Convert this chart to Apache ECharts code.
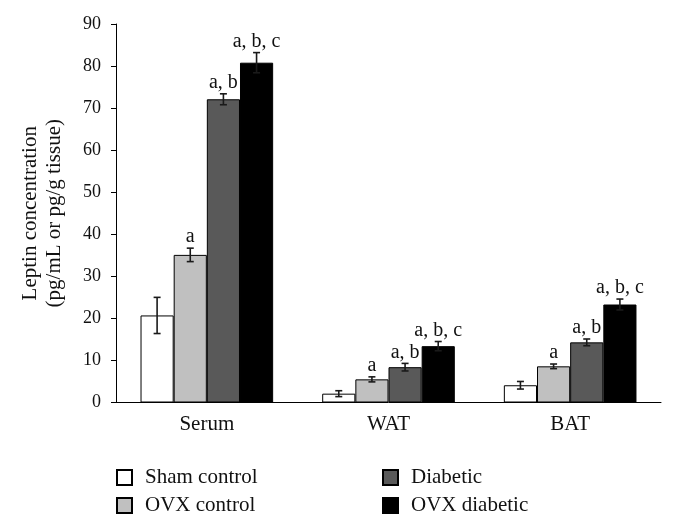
<!DOCTYPE html>
<html>
<head>
<meta charset="utf-8">
<script src="https://cdn.jsdelivr.net/npm/echarts@6/dist/echarts.min.js"></script>
<style>
  html, body { margin: 0; padding: 0; background: #fff; }
  #chart { width: 676px; height: 527px; }
</style>
</head>
<body>
<div id="chart"></div>
<script>
const categories = ["Serum", "WAT", "BAT"];
const groups = ["Sham control", "OVX control", "Diabetic", "OVX diabetic"];
const colors = ["#ffffff", "#c0c0c0", "#595959", "#000000"];

// mean values per group, in category order
const shamControl = [20.7, 2.1, 4.1];
const ovxControl = [35.1, 5.5, 8.6];
const diabetic = [72.1, 8.4, 14.3];
const ovxDiabetic = [80.8, 13.4, 23.3];

// error (half height of the error bar)
const shamErr = [4.3, 0.7, 0.9];
const ovxErr = [1.6, 0.6, 0.55];
const diabeticErr = [1.3, 0.9, 0.8];
const ovxDiabeticErr = [2.4, 1.1, 1.3];

// significance letters above bars
const shamSig = ["", "", ""];
const ovxSig = ["a", "a", "a"];
const diabeticSig = ["a, b", "a, b", "a, b"];
const ovxDiabeticSig = ["a, b, c", "a, b, c", "a, b, c"];

const values = [shamControl, ovxControl, diabetic, ovxDiabetic];
const errors = [shamErr, ovxErr, diabeticErr, ovxDiabeticErr];
const sigs = [shamSig, ovxSig, diabeticSig, ovxDiabeticSig];

const font = "Liberation Serif";
const gapRatio = 0.27;

let series = [];
groups.forEach((name, i) => {
  series.push({
    name: name,
    type: "bar",
    data: values[i],
    barGap: 0,
    barCategoryGap: gapRatio * 100 + "%",
    itemStyle: { color: colors[i], borderColor: "#000", borderWidth: 1 }
  });
});

groups.forEach((name, i) => {
  series.push({
    type: "custom",
    name: name + " err",
    z: 5,
    data: values[i].map((v, k) => [k, v, errors[i][k]]),
    renderItem: function (params, api) {
      let band = api.size([1, 0])[0];
      let bw = band * (1 - gapRatio) / 4;
      let off = (i - 1.5) * bw;
      let v = api.value(1);
      let e = api.value(2);
      let top = api.coord([api.value(0), v + e]);
      let bot = api.coord([api.value(0), v - e]);
      let x = top[0] + off;
      let cap = 3.5;
      let st = { stroke: "#1a1a1a", lineWidth: 1.6 };
      let children = [
        { type: "line", shape: { x1: x, y1: top[1], x2: x, y2: bot[1] }, style: st },
        { type: "line", shape: { x1: x - cap, y1: top[1], x2: x + cap, y2: top[1] }, style: st },
        { type: "line", shape: { x1: x - cap, y1: bot[1], x2: x + cap, y2: bot[1] }, style: st }
      ];
      let s = sigs[i][params.dataIndex];
      if (s) {
        children.push({
          type: "text",
          style: {
            text: s, x: x, y: top[1] - 1,
            align: "center", verticalAlign: "bottom",
            font: "20px '" + font + "'", fill: "#111"
          }
        });
      }
      return { type: "group", children: children };
    }
  });
});

const legendText = { fontFamily: font, fontSize: 21, lineHeight: 21, color: "#111", padding: [0, 0, 0, 8] };

const chart = echarts.init(document.getElementById("chart"));
chart.setOption({
  animation: false,
  backgroundColor: "#fff",
  textStyle: { fontFamily: font },
  grid: { left: 116, right: 15, top: 24, bottom: 124.5 },
  legend: [
    {
      data: ["Sham control", "OVX control"],
      orient: "vertical",
      left: 116, top: 467, padding: 0,
      itemWidth: 15, itemHeight: 15, itemGap: 7,
      icon: "rect",
      textStyle: legendText
    },
    {
      data: ["Diabetic", "OVX diabetic"],
      orient: "vertical",
      left: 382, top: 467, padding: 0,
      itemWidth: 15, itemHeight: 15, itemGap: 7,
      icon: "rect",
      textStyle: legendText
    }
  ],
  xAxis: {
    type: "category",
    data: categories,
    axisLine: { lineStyle: { color: "#000", width: 1 } },
    axisTick: { length: 6, lineStyle: { color: "#000" } },
    axisLabel: { fontFamily: font, fontSize: 21, color: "#111", margin: 11 }
  },
  yAxis: {
    type: "value",
    min: 0, max: 90, interval: 10,
    name: "Leptin concentration\n(pg/mL or pg/g tissue)",
    nameLocation: "middle",
    nameGap: 50,
    nameTextStyle: { fontFamily: font, fontSize: 21, lineHeight: 24, color: "#111" },
    splitLine: { show: false },
    axisLine: { show: true, lineStyle: { color: "#000", width: 1 } },
    axisTick: { show: true, length: 5, lineStyle: { color: "#000" } },
    axisLabel: { fontFamily: font, fontSize: 18, color: "#111", margin: 15 }
  },
  series: series
});
</script>
</body>
</html>
